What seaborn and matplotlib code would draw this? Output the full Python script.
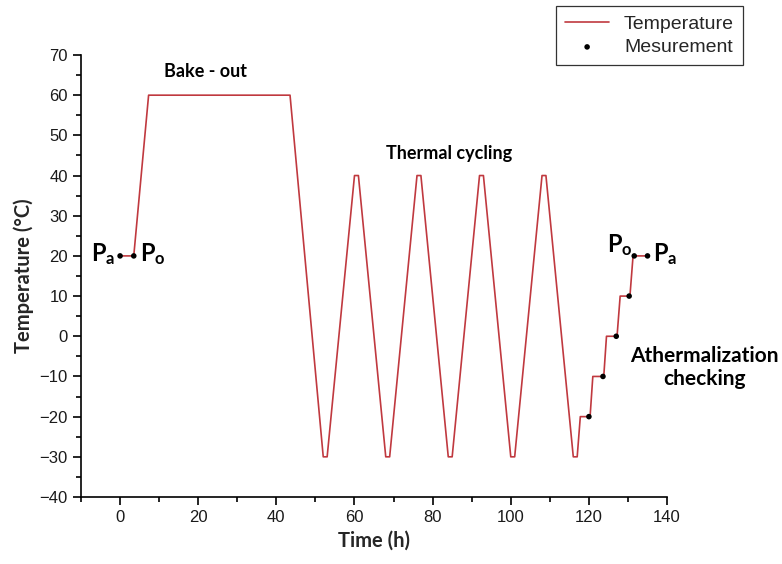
import matplotlib
matplotlib.use("Agg")
import matplotlib.pyplot as plt
import seaborn as sns
import pandas as pd
from matplotlib.ticker import MultipleLocator

# Temperature profile (time in h, temperature in °C)
time_h = [0, 3.5, 7.3, 43.5, 52, 53, 60, 61, 68, 69, 76, 77, 84, 85, 92, 93,
          100, 101, 108, 109, 116, 117, 117.8, 120.3, 121.0, 123.8, 124.5,
          127.2, 128.0, 130.5, 131.3, 135.0]
temp_c = [20, 20, 60, 60, -30, -30, 40, 40, -30, -30, 40, 40, -30, -30, 40, 40,
          -30, -30, 40, 40, -30, -30, -20, -20, -10, -10, 0,
          0, 10, 10, 20, 20]

# Measurement points
meas_t = [0, 3.5, 120.0, 123.6, 127.0, 130.3, 131.6, 135.0]
meas_c = [20, 20, -20, -10, 0, 10, 20, 20]

sns.set_theme(style="ticks")
plt.rcParams["font.family"] = ["Liberation Sans", "DejaVu Sans"]
plt.rcParams["mathtext.fontset"] = "custom"
plt.rcParams["mathtext.rm"] = "Lato"
plt.rcParams["mathtext.bf"] = "Lato:bold"

fig = plt.figure(figsize=(7.82, 5.64), dpi=100)
ax = fig.add_axes([0.1036, 0.1188, 0.7494, 0.7837])

prof = pd.DataFrame({"t": time_h, "T": temp_c})
meas = pd.DataFrame({"t": meas_t, "T": meas_c})
sns.lineplot(data=prof, x="t", y="T", sort=False, ax=ax, color="#c0393f",
             linewidth=1.2, label="Temperature")
sns.scatterplot(data=meas, x="t", y="T", ax=ax, color="black", s=16,
                edgecolor="none", label="Mesurement", zorder=5)

ax.set_xlim(-10, 140)
ax.set_ylim(-40, 70)
ax.xaxis.set_major_locator(MultipleLocator(20))
ax.xaxis.set_minor_locator(MultipleLocator(10))
ax.yaxis.set_major_locator(MultipleLocator(10))
ax.yaxis.set_minor_locator(MultipleLocator(5))
ax.tick_params(which="major", length=6, width=1.2, color="black",
               labelsize=12, labelcolor="#1a1a1a", direction="out")
ax.tick_params(which="minor", length=3.5, width=1.2, color="black", direction="out")
for s in ["left", "bottom"]:
    ax.spines[s].set_linewidth(1.2)
    ax.spines[s].set_color("black")
sns.despine(ax=ax)
ax.grid(False)

lab_font = dict(family=["Lato", "DejaVu Sans"], fontweight="bold", fontsize=14.5)
ax.set_xlabel("Time (h)", labelpad=4, **lab_font)
ax.set_ylabel("Temperature (\u00b0C)", labelpad=4, **lab_font)

ann = dict(family=["Lato", "DejaVu Sans"], fontweight="bold", ha="center",
           va="center", color="black")
ax.text(21.8, 65.8, "Bake - out", fontsize=13, **ann)
ax.text(84.2, 45.6, "Thermal cycling", fontsize=13, **ann)
ax.text(149.6, -7.8, "Athermalization\nchecking", fontsize=15, linespacing=1.2,
        clip_on=False, **ann)
pk = dict(ha="center", va="center", fontsize=17, color="black", clip_on=False)
ax.text(-4.4, 20.4, r"$\mathbf{P_a}$", **pk)
ax.text(8.4, 20.4, r"$\mathbf{P_o}$", **pk)
ax.text(128.0, 22.6, r"$\mathbf{P_o}$", **pk)
ax.text(139.6, 20.4, r"$\mathbf{P_a}$", **pk)

leg = ax.legend(loc="upper left", bbox_to_anchor=(0.711, 0.989), bbox_transform=fig.transFigure,
                frameon=True, fancybox=False, fontsize=14, handlelength=2.3,
                borderpad=0.45, labelspacing=0.3, handletextpad=0.75, borderaxespad=0)
leg.get_frame().set_edgecolor("black")
leg.get_frame().set_linewidth(0.9)

fig.savefig("out.png", dpi=100)
